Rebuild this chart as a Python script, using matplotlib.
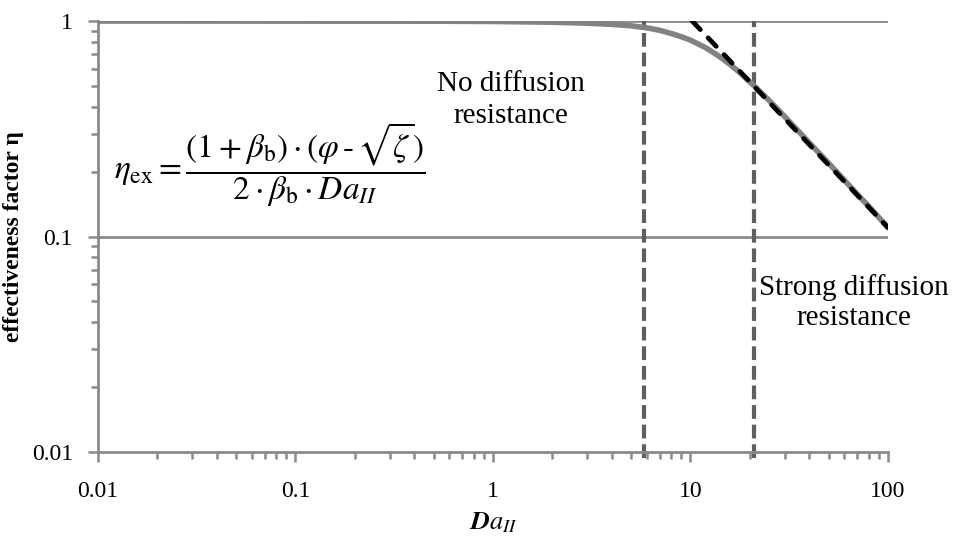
import matplotlib
matplotlib.use("Agg")
import matplotlib.pyplot as plt
from matplotlib.ticker import LogLocator, FixedLocator, FixedFormatter, NullFormatter

# values
da = [0.01, 0.1, 0.5, 1, 2, 3, 4, 5, 6, 7, 8, 9, 10, 12, 14, 16, 18, 21,
      25, 30, 40, 50, 60, 70, 80, 100]
eta = [1.0, 0.999, 0.998, 0.995, 0.987, 0.977, 0.965, 0.95, 0.93, 0.905,
       0.875, 0.845, 0.815, 0.75, 0.685, 0.625, 0.57, 0.5, 0.428, 0.36,
       0.272, 0.219, 0.183, 0.157, 0.138, 0.11]
asym_da = [10.2, 100]
asym_eta = [1.0, 0.11]
bounds = [5.8, 21]
xticks = [0.01, 0.1, 1, 10, 100]
xlabels = ["0.01", "0.1", "1", "10", "100"]
yticks = [0.01, 0.1, 1]
ylabels = ["0.01", "0.1", "1"]

plt.rcParams["font.family"] = ["Liberation Serif", "DejaVu Serif"]
plt.rcParams["mathtext.fontset"] = "stix"

grey = "#8a8a8a"
fig = plt.figure(figsize=(9.54, 5.43), dpi=100)
ax = fig.add_axes([0.1027, 0.1676, 0.8281, 0.7937])

ax.set_xscale("log")
ax.set_yscale("log")
ax.set_xlim(0.01, 100)
ax.set_ylim(0.01, 1)

for y in [0.1, 1]:
    ax.axhline(y, color=grey, lw=2, zorder=1)

for b in bounds:
    ax.axvline(b, color="#5f5f5f", lw=3, ls=(0, (3.3, 1.4)), zorder=2,
               ymin=-0.015, clip_on=False)

ax.plot(da, eta, color="#828282", lw=4, zorder=3, solid_capstyle="round")
ax.plot(asym_da, asym_eta, color="black", lw=3.4, ls=(0, (2.5, 2.4)),
        zorder=4, dash_capstyle="round")

ax.xaxis.set_major_locator(FixedLocator(xticks))
ax.xaxis.set_major_formatter(FixedFormatter(xlabels))
ax.yaxis.set_major_locator(FixedLocator(yticks))
ax.yaxis.set_major_formatter(FixedFormatter(ylabels))
ax.xaxis.set_minor_locator(LogLocator(base=10, subs=range(2, 10)))
ax.yaxis.set_minor_locator(LogLocator(base=10, subs=range(2, 10)))
ax.xaxis.set_minor_formatter(NullFormatter())
ax.yaxis.set_minor_formatter(NullFormatter())

for s in ["top", "right"]:
    ax.spines[s].set_visible(False)
for s in ["left", "bottom"]:
    ax.spines[s].set_color(grey)
    ax.spines[s].set_linewidth(2)

ax.tick_params(which="both", direction="out", color=grey, width=1.8,
               labelsize=17, labelcolor="black")
ax.tick_params(which="major", length=7)
ax.tick_params(which="minor", length=5)
ax.tick_params(axis="x", which="major", pad=14)
ax.tick_params(axis="y", which="major", pad=11)

ax.set_xlabel(r"$\boldsymbol{Da_{II}}$", fontsize=19, labelpad=6)
ax.set_ylabel("effectiveness factor η", fontsize=17, fontweight="bold",
              labelpad=6)

ax.text(0.523, 0.817, "No diffusion\nresistance", transform=ax.transAxes,
        ha="center", va="center", fontsize=21, linespacing=1.3)
ax.text(0.957, 0.346, "Strong diffusion\nresistance", transform=ax.transAxes,
        ha="center", va="center", fontsize=21, linespacing=1.2)

ax.text(0.02, 0.666,
        r"$\eta_{\mathrm{ex}} = \dfrac{(1+\beta_{\mathrm{b}})\cdot(\varphi\,\text{-}\,\sqrt{\zeta})}"
        r"{2\cdot\beta_{\mathrm{b}}\cdot Da_{II}}$",
        transform=ax.transAxes, ha="left", va="center", fontsize=24)

fig.savefig("out.png", dpi=100)
